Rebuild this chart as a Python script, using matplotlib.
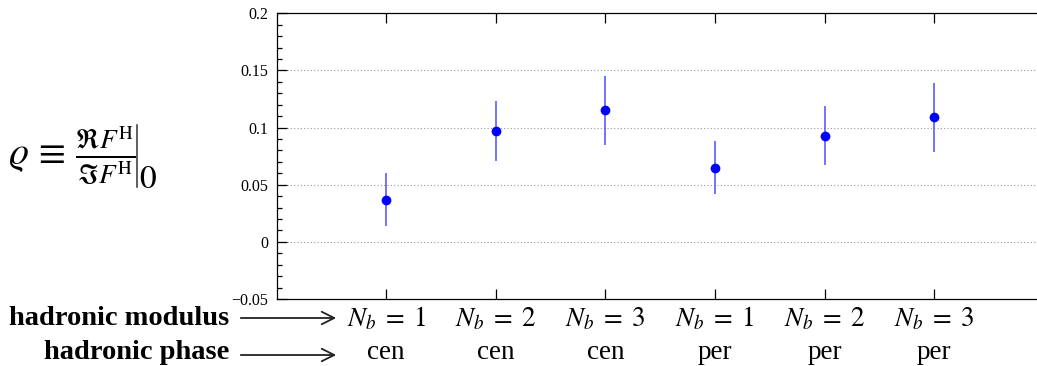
import matplotlib
matplotlib.use('Agg')
import matplotlib.pyplot as plt
from matplotlib.ticker import MultipleLocator, FixedLocator
from matplotlib.transforms import blended_transform_factory
from matplotlib.lines import Line2D
from matplotlib.patches import FancyArrowPatch

plt.rcParams['font.family'] = ['Liberation Serif', 'DejaVu Serif']
plt.rcParams['mathtext.fontset'] = 'stix'

# rho values per hadronic modulus / phase combination
modulus = ['$N_b\\;=\\;1$', '$N_b\\;=\\;2$', '$N_b\\;=\\;3$',
           '$N_b\\;=\\;1$', '$N_b\\;=\\;2$', '$N_b\\;=\\;3$']
phase = ['cen', 'cen', 'cen', 'per', 'per', 'per']
rho = [0.037, 0.097, 0.115, 0.065, 0.093, 0.109]
rho_err = [0.023, 0.026, 0.030, 0.023, 0.026, 0.030]

ytick_vals = [-0.05, 0, 0.05, 0.1, 0.15, 0.2]
ytick_text = ['\u22120.05', '0', '0.05', '0.1', '0.15', '0.2']

W, H = 1037, 366
fig = plt.figure(figsize=(W / 100, H / 100), dpi=100)
ax = fig.add_axes([276.6 / W, 67 / H, 7 * 109.6 / W, 285.7 / H])

x = list(range(1, len(rho) + 1))
ax.errorbar(x, rho, yerr=rho_err, fmt='none', ecolor=(0.3, 0.3, 1.0), elinewidth=1.1)
ax.plot(x, rho, 'o', color='#0000ff', markersize=6)

ax.set_xlim(0, 7)
ax.set_ylim(-0.05, 0.2)
ax.set_xticks(x)
ax.set_xticklabels([])
ax.yaxis.set_major_locator(FixedLocator(ytick_vals))
ax.set_yticklabels(ytick_text, fontsize=11.5)
ax.yaxis.set_minor_locator(MultipleLocator(0.01))
ax.tick_params(axis='y', which='major', direction='in', length=7, width=0.9, pad=6)
ax.tick_params(axis='y', which='minor', direction='in', length=3.6, width=0.9)
ax.tick_params(axis='x', which='major', direction='in', length=7, width=0.9, top=True)
for s in ax.spines.values():
    s.set_linewidth(0.9)

for v in [0, 0.05, 0.1, 0.15]:
    ax.axhline(v, color='#999999', lw=0.8, ls=(0, (1, 2)), zorder=0)

# two-row category labels under the axis
trans = blended_transform_factory(ax.transData, fig.transFigure)
for xi, m, p in zip(x, modulus, phase):
    ax.text(xi, 1 - 326 / H, m, transform=trans, ha='center', va='baseline', fontsize=19.5)
    ax.text(xi, 1 - 359 / H, p, transform=trans, ha='center', va='baseline', fontsize=19.5)

fig.text(229 / W, 1 - 325 / H, 'hadronic modulus', ha='right', va='baseline',
         fontsize=20.5, fontweight='bold')
fig.text(229 / W, 1 - 359 / H, 'hadronic phase', ha='right', va='baseline',
         fontsize=20.5, fontweight='bold')
for yy in [318, 355]:
    fig.add_artist(FancyArrowPatch(
        (238 / W, 1 - yy / H), (339 / W, 1 - yy / H), transform=fig.transFigure,
        arrowstyle='->,head_length=9,head_width=4.5', lw=1.3, color='#222222',
        mutation_scale=1))

# rho definition on the left, with an evaluation bar
fig.text(8 / W, 1 - 156 / H,
         r'$\varrho \,\equiv\, \frac{\Re F^{\mathrm{H}}}{\Im F^{\mathrm{H}}}$',
         ha='left', va='center', fontsize=28)
fig.add_artist(Line2D([137 / W, 137 / W], [1 - 125 / H, 1 - 187 / H],
                      transform=fig.transFigure, color='#333333', lw=1.1))
fig.text(139 / W, 1 - 188 / H, '$0$', ha='left', va='baseline', fontsize=24)

fig.savefig('out.png', dpi=100)
